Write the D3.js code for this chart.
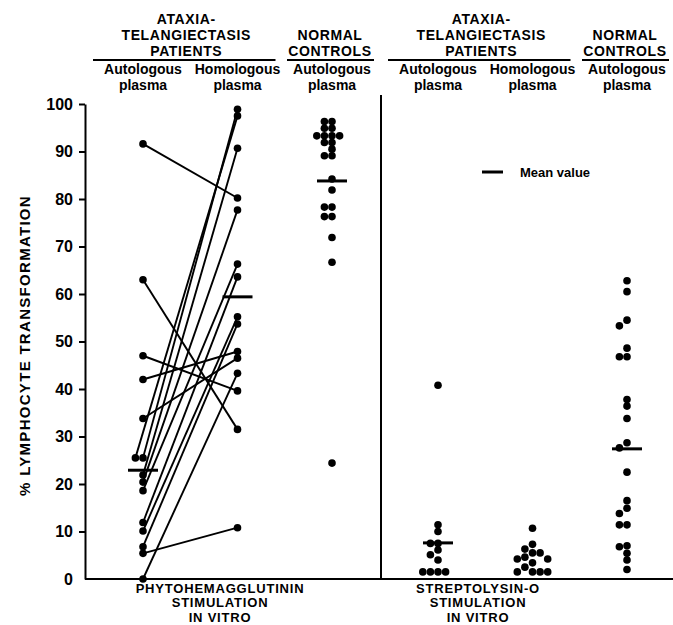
<!DOCTYPE html>
<html>
<head>
<meta charset="utf-8">
<title>Lymphocyte transformation</title>
<script src="https://d3js.org/d3.v7.min.js"></script>
<style>
 body { margin: 0; background: #fff; }
 svg { display: block; font-family: "Liberation Sans", Arial, sans-serif; font-weight: bold; }
 .dot { fill: #000; }
 .pair { stroke: #000; stroke-width: 1.9px; }
 .mean { stroke: #000; stroke-width: 3px; }
 .rule { stroke: #000; stroke-width: 2px; }
 .axis path, .axis line { stroke: #000; stroke-width: 2px; }
 .axis text { font-family: "Liberation Sans", Arial, sans-serif; font-weight: bold; font-size: 16px; fill: #000; }
</style>
</head>
<body>
<script>
var width = 673, height = 625;
var r = 3.8;

// PHA, ataxia-telangiectasis patients (same index = same patient)
var phaAutoAT = [91.6, 63, 47, 42, 33.8, 25.5, 25.5, 21.9, 20.4, 18.6, 11.9, 10.1, 6.8, 5.4, 0];
var phaHomoAT = [80.2, 31.5, 39.6, 47.9, 46.5, 98.9, 97.5, 90.7, 77.7, 66.3, 63.6, 55.2, 53.7, 10.8, 43.3];
// PHA, normal controls
var phaAutoNormal = [96.3, 96.3, 94.9, 94.9, 93.3, 93.3, 93.3, 93.3, 91.9, 91.9, 90.5, 89.1, 89.1,
                     84.2, 81.9, 78.3, 78.3, 76.3, 76.3, 71.9, 66.7, 24.4];
// streptolysin-O
var sloAutoAT = [40.8, 11.4, 10, 7.5, 7.5, 6.1, 5.1, 4.0, 1.5, 1.5, 1.5, 1.5];
var sloHomoAT = [10.7, 7.3, 6.3, 5.5, 5.5, 4.6, 4.2, 4.2, 3.4, 2.5, 1.5, 1.5, 1.5, 1.5];
var sloAutoNormal = [62.8, 60.5, 54.5, 53.3, 48.6, 46.8, 46.8, 37.8, 36.4, 33.8, 28.7, 27.6, 22.5,
                     16.5, 14.9, 13.8, 11.4, 11.4, 7.0, 6.8, 5.4, 4.0, 2.0];
// mean values per column (null = not marked)
var phaMeans = [22.9, 59.4, 83.8];
var sloMeans = [7.6, null, 27.4];

var yTicks = [0, 10, 20, 30, 40, 50, 60, 70, 80, 90, 100];
var groupHeads = [["ATAXIA-", "TELANGIECTASIS", "PATIENTS"], ["NORMAL", "CONTROLS"]];
var colLabels = [["Autologous", "plasma"], ["Homologous", "plasma"], ["Autologous", "plasma"]];
var stimLabels = [["PHYTOHEMAGGLUTININ", "STIMULATION", "IN VITRO"],
                  ["STREPTOLYSIN-O", "STIMULATION", "IN VITRO"]];
var legendLabel = "Mean value";

var svg = d3.select('body').append('svg')
    .attr('width', width)
    .attr('height', height);

var y = d3.scaleLinear().domain([0, 100]).range([579, 104]);
var x1 = d3.scalePoint().domain([0, 1, 2]).range([143, 332]);
var x2 = d3.scalePoint().domain([0, 1, 2]).range([438, 627]);

// y axis
var axis = svg.append('g')
    .attr('class', 'axis')
    .attr('transform', 'translate(85,0)')
    .call(d3.axisLeft(y).tickValues(yTicks).tickSize(6).tickSizeOuter(0).tickPadding(6));
axis.selectAll('.tick').filter(d => d === 0).select('line').remove();

svg.append('text')
    .attr('transform', 'translate(30,' + (y(50) + 4) + ') rotate(-90)')
    .attr('text-anchor', 'middle')
    .style('font-size', '15px')
    .style('letter-spacing', '1.3px')
    .text('% LYMPHOCYTE TRANSFORMATION');

// baseline and panel separator
svg.append('line').attr('class', 'rule')
    .attr('x1', 85).attr('x2', width).attr('y1', y(0)).attr('y2', y(0));
svg.append('line').attr('class', 'rule')
    .attr('x1', 381).attr('x2', 381).attr('y1', 95).attr('y2', y(0));

// place dots of one column side by side when they would overlap
function dodge(values, cx) {
    var placed = [];
    var offs = [0, -1, 1, -2, 2, -3, 3];
    return values.map(function (v) {
        var cy = y(v), px = cx;
        for (var k = 0; k < offs.length; k++) {
            px = cx + offs[k] * 2 * r;
            if (placed.every(p => Math.hypot(p.x - px, p.y - cy) >= 2 * r - 1)) break;
        }
        var p = {v: v, x: px, y: cy};
        placed.push(p);
        return p;
    });
}

function dots(pts) {
    svg.append('g').selectAll('circle')
        .data(pts)
        .enter()
        .append('circle')
        .attr('class', 'dot')
        .attr('cx', d => d.x)
        .attr('cy', d => d.y)
        .attr('r', r);
}

function means(vals, xs) {
    svg.append('g').selectAll('line')
        .data(vals.map((m, i) => ({m: m, i: i})).filter(d => d.m !== null))
        .enter()
        .append('line')
        .attr('class', 'mean')
        .attr('x1', d => xs(d.i) - 15)
        .attr('x2', d => xs(d.i) + 15)
        .attr('y1', d => y(d.m))
        .attr('y2', d => y(d.m));
}

// PHA panel
var leftPts = dodge(phaAutoAT, x1(0));
var rightPts = dodge(phaHomoAT, x1(1));
svg.append('g').selectAll('line')
    .data(leftPts)
    .enter()
    .append('line')
    .attr('class', 'pair')
    .attr('x1', d => d.x)
    .attr('y1', d => d.y)
    .attr('x2', (d, i) => rightPts[i].x)
    .attr('y2', (d, i) => rightPts[i].y);
dots(leftPts);
dots(rightPts);
dots(dodge(phaAutoNormal, x1(2)));
means(phaMeans, x1);

// SLO panel
dots(dodge(sloAutoAT, x2(0)));
dots(dodge(sloHomoAT, x2(1)));
dots(dodge(sloAutoNormal, x2(2)));
means(sloMeans, x2);

// headers
[x1, x2].forEach(function (xs) {
    var atCx = (xs(0) + xs(1)) / 2 - 4;
    var head = svg.append('g')
        .style('font-size', '14px')
        .style('letter-spacing', '0.6px')
        .attr('text-anchor', 'middle');
    groupHeads[0].forEach(function (t, i) {
        head.append('text').attr('x', atCx).attr('y', 24 + i * 16).text(t);
    });
    groupHeads[1].forEach(function (t, i) {
        head.append('text').attr('x', xs(2) - 2).attr('y', 40 + i * 16).text(t);
    });
    svg.append('line').attr('class', 'rule')
        .attr('x1', xs(0) - 50).attr('x2', xs(1) + 38).attr('y1', 60).attr('y2', 60);
    svg.append('line').attr('class', 'rule')
        .attr('x1', xs(2) - 45).attr('x2', xs(2) + 42).attr('y1', 60).attr('y2', 60);
    colLabels.forEach(function (lab, i) {
        var g = svg.append('g')
            .style('font-size', '14px')
            .attr('text-anchor', 'middle');
        g.append('text').attr('x', xs(i)).attr('y', 74).text(lab[0]);
        g.append('text').attr('x', xs(i)).attr('y', 89.8).text(lab[1]);
    });
});

// stimulation labels under each panel
var stimCx = [220, 478];
stimLabels.forEach(function (lines, p) {
    var g = svg.append('g')
        .style('font-size', '13px')
        .style('letter-spacing', '0.8px')
        .attr('text-anchor', 'middle');
    lines.forEach(function (t, i) {
        g.append('text').attr('x', stimCx[p]).attr('y', 592.5 + i * 14.7).text(t);
    });
});

// legend
svg.append('line').attr('class', 'mean')
    .attr('x1', 482).attr('x2', 503).attr('y1', 172).attr('y2', 172);
svg.append('text')
    .attr('x', 520).attr('y', 177)
    .style('font-size', '13px')
    .text(legendLabel);
</script>
</body>
</html>
